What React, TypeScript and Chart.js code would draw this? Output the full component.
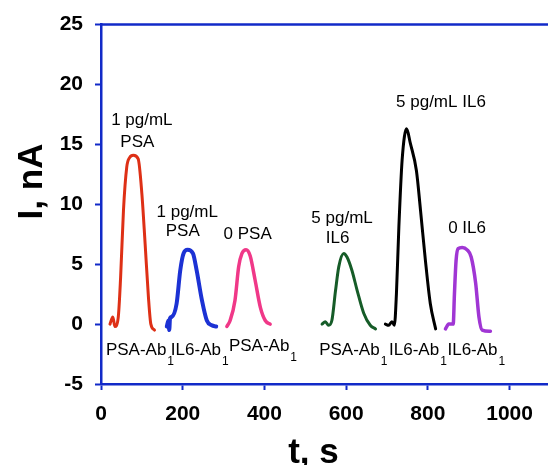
import React, { useEffect, useRef } from "react";
import { Chart, registerables } from "chart.js";

Chart.register(...registerables);

// ---- data (time in s, current in nA) ----
const psa1T = [22, 29, 34, 42, 48, 55, 63, 70, 79, 91, 100, 108, 116, 122, 131];
const psa1I = [0, 0.6, -0.2, 0.5, 3.9, 9.5, 13.1, 13.9, 14.1, 13.8, 10.9, 6.7, 2.3, 0, -0.5];

const psaOnIl6T = [161, 165, 167, 169, 173, 185, 194, 202, 212, 225, 234, 247, 259, 271, 282];
const psaOnIl6I = [-0.2, 0.3, -0.5, 0.5, 0.6, 1.7, 4.5, 5.9, 6.2, 5.9, 4.5, 2.0, 0.3, -0.1, -0.2];

const psa0T = [308, 316, 328, 337, 345, 355, 365, 377, 390, 402, 414];
const psa0I = [-0.2, 0.3, 2.0, 4.8, 5.9, 6.2, 5.7, 3.7, 1.4, 0.3, 0.0];

const il6OnPsaT = [541, 549, 557, 565, 574, 582, 594, 602, 614, 627, 643, 659, 672];
const il6OnPsaI = [0, 0.2, -0.1, 0.3, 2.8, 4.8, 5.9, 5.6, 4.5, 2.8, 0.9, -0.1, -0.4];

const il65T = [696, 704, 712, 718, 723, 729, 737, 748, 757, 772, 782, 794, 806, 819];
const il65I = [0, -0.1, 0.2, -0.1, 2.5, 8.1, 13.7, 16.3, 15.1, 12.8, 9.5, 5.3, 1.7, -0.4];

const il60T = [843, 851, 862, 865, 869, 874, 884, 896, 906, 917, 925, 933, 953];
const il60I = [-0.4, 0, 0, 2.5, 5.3, 6.3, 6.4, 6.2, 5.6, 3.4, 0.6, -0.5, -0.6];

const xTicks = [0, 200, 400, 600, 800, 1000];
const yTicks = [-5, 0, 5, 10, 15, 20, 25];

// annotation texts anchored in data coordinates (centre of text)
const topLabelText = ["1 pg/mL", "PSA", "1 pg/mL", "PSA", "0 PSA", "5 pg/mL", "IL6", "5 pg/mL IL6", "0 IL6"];
const topLabelT = [100, 89, 211, 200, 359, 590, 579, 832, 896];
const topLabelI = [17.0, 15.2, 9.3, 7.75, 7.5, 8.8, 7.2, 18.5, 8.0];

// electrode labels (text start, subscript "1")
const abLabelText = ["PSA-Ab", "IL6-Ab", "PSA-Ab", "PSA-Ab", "IL6-Ab", "IL6-Ab"];
const abLabelT = [12, 171, 313, 534, 705, 848];
const abLabelI = [-2.19, -2.19, -1.85, -2.19, -2.19, -2.19];

const AXIS_BLUE = "rgb(18,42,200)";

const series = [
  { t: psa1T, i: psa1I, color: "rgb(222,48,22)", w: 3 },
  { t: psaOnIl6T, i: psaOnIl6I, color: "rgb(28,50,212)", w: 4 },
  { t: psa0T, i: psa0I, color: "rgb(240,56,136)", w: 3.5 },
  { t: il6OnPsaT, i: il6OnPsaI, color: "rgb(22,92,40)", w: 3 },
  { t: il65T, i: il65I, color: "rgb(0,0,0)", w: 3 },
  { t: il60T, i: il60I, color: "rgb(160,54,212)", w: 3.5 },
];

const FONT = "'Liberation Sans', Arial, Helvetica, sans-serif";

const decorPlugin = {
  id: "decor",
  afterDraw(chart: any) {
    const { ctx, chartArea, scales } = chart;
    const xs = scales.x;
    const ys = scales.y;
    ctx.save();
    // top frame line
    ctx.strokeStyle = AXIS_BLUE;
    ctx.lineWidth = 2.5;
    ctx.beginPath();
    ctx.moveTo(chartArea.left - 1, chartArea.top);
    ctx.lineTo(chartArea.right, chartArea.top);
    ctx.stroke();

    // annotations
    ctx.fillStyle = "#000";
    ctx.font = `17px ${FONT}`;
    ctx.textAlign = "center";
    ctx.textBaseline = "middle";
    topLabelText.forEach((txt, k) => {
      ctx.fillText(txt, xs.getPixelForValue(topLabelT[k]), ys.getPixelForValue(topLabelI[k]));
    });

    ctx.textAlign = "left";
    abLabelText.forEach((txt, k) => {
      const px = xs.getPixelForValue(abLabelT[k]);
      const py = ys.getPixelForValue(abLabelI[k]);
      ctx.font = `17px ${FONT}`;
      ctx.fillText(txt, px, py);
      const w = ctx.measureText(txt).width;
      ctx.font = `12px ${FONT}`;
      ctx.fillText("1", px + w + 1, py + 11);
    });

    // axis titles
    ctx.font = `bold 35px ${FONT}`;
    ctx.textAlign = "center";
    ctx.textBaseline = "alphabetic";
    ctx.fillText("t, s", 313.5, 463);

    ctx.translate(42, 181.5);
    ctx.rotate(-Math.PI / 2);
    ctx.fillText("I, nA", 0, 0);
    ctx.restore();
  },
};

export default function App() {
  const ref = useRef<HTMLCanvasElement | null>(null);

  useEffect(() => {
    if (!ref.current) return;
    const chart = new Chart(ref.current, {
      type: "line",
      data: {
        datasets: series.map((s) => ({
          data: s.t.map((t, k) => ({ x: t, y: s.i[k] })),
          borderColor: s.color,
          backgroundColor: s.color,
          borderWidth: s.w,
          pointRadius: 0,
          cubicInterpolationMode: "monotone" as const,
          fill: false,
          borderCapStyle: "round" as const,
          borderJoinStyle: "round" as const,
        })),
      },
      options: {
        responsive: false,
        animation: false,
        events: [],
        layout: { padding: { top: 24, right: 0, left: 0, bottom: 0 } },
        plugins: { legend: { display: false }, tooltip: { enabled: false }, title: { display: false } },
        scales: {
          x: {
            type: "linear",
            min: 0,
            max: 1094,
            afterFit: (s: any) => {
              s.height = 81;
            },
            afterBuildTicks: (s: any) => {
              s.ticks = xTicks.map((v) => ({ value: v }));
            },
            ticks: {
              color: "#000",
              font: { family: FONT, size: 21, weight: "bold" },
              padding: 12,
              maxRotation: 0,
              autoSkip: false,
              includeBounds: false,
              callback: (v: any) => String(v),
            },
            grid: {
              display: true,
              drawOnChartArea: false,
              drawTicks: true,
              tickLength: 6,
              tickWidth: 2,
              tickColor: AXIS_BLUE,
              color: AXIS_BLUE,
            },
            border: { display: true, color: AXIS_BLUE, width: 2.5 },
          },
          y: {
            type: "linear",
            min: -5,
            max: 25,
            afterFit: (s: any) => {
              s.width = 101;
            },
            afterBuildTicks: (s: any) => {
              s.ticks = yTicks.map((v) => ({ value: v }));
            },
            ticks: {
              color: "#000",
              font: { family: FONT, size: 21, weight: "bold" },
              padding: 12,
              autoSkip: false,
              includeBounds: false,
              callback: (v: any) => String(v),
            },
            grid: {
              display: true,
              drawOnChartArea: false,
              drawTicks: true,
              tickLength: 6,
              tickWidth: 2,
              tickColor: AXIS_BLUE,
              color: AXIS_BLUE,
            },
            border: { display: true, color: AXIS_BLUE, width: 2.5 },
          },
        },
      },
      plugins: [decorPlugin],
    });
    return () => chart.destroy();
  }, []);

  return (
    <div style={{ position: "fixed", left: 0, top: 0, width: 548, height: 465, background: "#fff" }}>
      <canvas ref={ref} width={548} height={465} style={{ display: "block", width: 548, height: 465 }} />
    </div>
  );
}
